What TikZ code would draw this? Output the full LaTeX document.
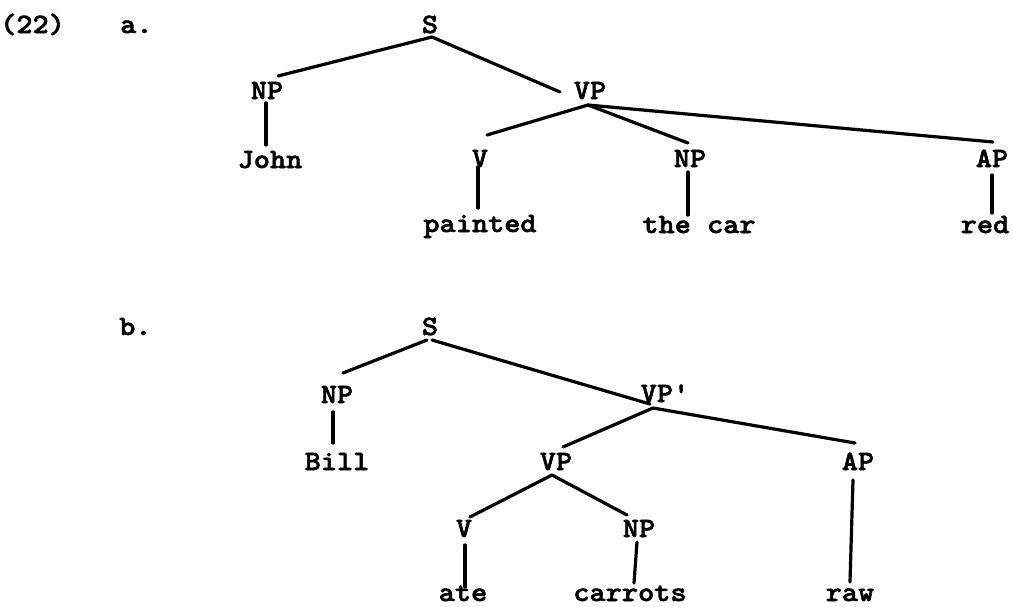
\documentclass[tikz,border=0pt]{standalone}
\usepackage{fontspec}
\newfontfamily\twfont{lmmonolt10-bold}[Extension=.otf, FakeStretch=1.1, FakeBold=2]
\usetikzlibrary{calc}
\begin{document}
\begin{tikzpicture}[x=1pt,y=-1pt,
  lab/.style={font=\fontsize{28}{28}\selectfont\twfont, inner sep=0pt, anchor=base},
  edge/.style={line width=3.2pt, line cap=round}]
\useasboundingbox (0,0) rectangle (1013,606);
% ---------- (22) a.
\node[lab, anchor=base west] (num) at (0,33) {(22)};
\node[lab, anchor=base west] (la) at (120,33) {a.};
\node[lab] (Sa) at (430,33) {S};
\node[lab] (NPa) at (267,99) {NP};
\node[lab] (John) at (270,168) {John};
\node[lab] (VPa) at (590,99) {VP};
\node[lab] (Va) at (480,167) {V};
\node[lab] (painted) at (480,232) {painted};
\node[lab] (NPa2) at (690,167) {NP};
\node[lab] (thecar) at (699,233) {the car};
\node[lab] (APa) at (992,167) {AP};
\node[lab] (red) at (985,233) {red};
\draw[edge] ($(Sa.base)+(2,4)$) -- ($(NPa.base)+(11,-23)$);
\draw[edge] ($(Sa.base)+(2,4)$) -- ($(VPa.base)+(-30,-7)$);
\draw[edge] ($(NPa.base)+(-1,4)$) -- ($(John.base)+(-4,-23)$);
\draw[edge] ($(VPa.base)+(-2,6)$) -- ($(Va.base)+(7,-32)$);
\draw[edge] ($(VPa.base)+(-2,6)$) -- ($(NPa2.base)+(-2,-24)$);
\draw[edge] ($(VPa.base)+(-2,6)$) -- ($(APa.base)+(1,-25)$);
\draw[edge] ($(Va.base)+(-2,0)$) -- ($(painted.base)+(-2,-24)$);
\draw[edge] ($(NPa2.base)+(-2,5)$) -- ($(thecar.base)+(-11,-18)$);
\draw[edge] ($(APa.base)+(0,8)$) -- ($(red.base)+(7,-20)$);
% ---------- b.
\node[lab, anchor=base west] (lb) at (119,335) {b.};
\node[lab] (Sb) at (430,335) {S};
\node[lab] (NPb) at (337,403) {NP};
\node[lab] (Bill) at (337,470) {Bill};
\node[lab] (VPp) at (665,402) {VP'};
\node[lab] (VPb) at (556,470) {VP};
\node[lab] (APb) at (858,470) {AP};
\node[lab] (Vb) at (464,537) {V};
\node[lab] (NPb2) at (639,537) {NP};
\node[lab, text depth=0pt] (ate) at (463,601) {ate};
\node[lab, text depth=0pt] (carrots) at (630,601) {carrots};
\node[lab, text depth=0pt] (raw) at (850,601) {raw};
\draw[edge] ($(Sb.base)+(-3,5)$) -- ($(NPb.base)+(6,-30)$);
\draw[edge] ($(Sb.base)+(2,5)$) -- ($(VPp.base)+(-15,2)$);
\draw[edge] ($(NPb.base)+(-4,9)$) -- ($(Bill.base)+(-4,-27)$);
\draw[edge] ($(VPp.base)+(-12,6)$) -- ($(VPb.base)+(7,-23)$);
\draw[edge] ($(VPp.base)+(-12,6)$) -- ($(APb.base)+(-3,-27)$);
\draw[edge] ($(VPb.base)+(-4,5)$) -- ($(Vb.base)+(6,-20)$);
\draw[edge] ($(VPb.base)+(-4,5)$) -- ($(NPb2.base)+(-12,-22)$);
\draw[edge] ($(Vb.base)+(1,8)$) -- ($(ate.base)+(2,-14)$);
\draw[edge] ($(NPb2.base)+(-2,5)$) -- ($(carrots.base)+(4,-18)$);
\draw[edge] ($(APb.base)+(-5,10)$) -- ($(raw.base)+(0,-19)$);
\end{tikzpicture}
\end{document}
